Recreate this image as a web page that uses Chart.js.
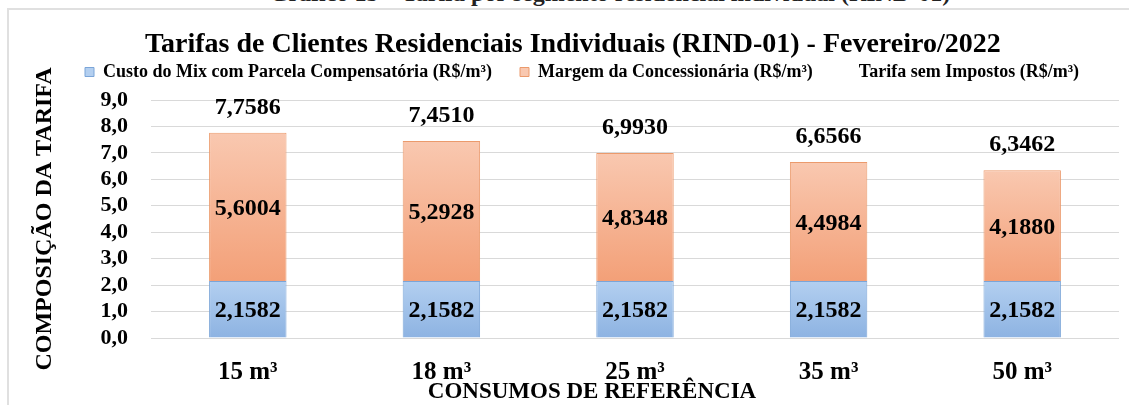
<!DOCTYPE html>
<html>
<head>
<meta charset="utf-8">
<script src="https://cdn.jsdelivr.net/npm/chart.js@4.4.1/dist/chart.umd.min.js"></script>
<style>
  body { margin: 0; background: #fff; }
  #wrap { position: relative; width: 1129px; height: 405px; overflow: hidden; }
  #legenda-topo {
    position: absolute; left: 0; width: 1220px; top: -19px; text-align: center;
    font: bold 24px "Liberation Serif"; line-height: 24px; color: #222; white-space: nowrap;
  }
  #moldura {
    position: absolute; left: 7px; top: 8px; width: 1200px; height: 500px;
    border: 2px solid #e0e0e0;
  }
  canvas { position: absolute; left: 0; top: 0; }
</style>
</head>
<body>
<div id="wrap">
  <div id="legenda-topo">Gráfico 15 – Tarifa por segmento residencial individual (RIND-01)</div>
  <div id="moldura"></div>
  <canvas id="myChart" width="1129" height="405"></canvas>
</div>
<script>
const categorias = ["15 m³", "18 m³", "25 m³", "35 m³", "50 m³"];
const custoMix = [2.1582, 2.1582, 2.1582, 2.1582, 2.1582];
const margem = [5.6004, 5.2928, 4.8348, 4.4984, 4.188];
const tarifaSemImpostos = [7.7586, 7.451, 6.993, 6.6566, 6.3462];

const fmt = (v, d) => v.toFixed(d).replace(".", ",");

// degradê vertical em cada segmento da barra
function degrade(cimaCor, baixoCor) {
  return function (context) {
    const chart = context.chart;
    const { ctx, chartArea, scales } = chart;
    if (!chartArea || context.type !== "data" || !scales.y) return baixoCor;
    const i = context.dataIndex;
    let base = 0;
    for (let d = 0; d < context.datasetIndex; d++) base += chart.data.datasets[d].data[i];
    const y0 = scales.y.getPixelForValue(base);
    const y1 = scales.y.getPixelForValue(base + context.raw);
    const g = ctx.createLinearGradient(0, y1, 0, y0);
    g.addColorStop(0, cimaCor);
    g.addColorStop(1, baixoCor);
    return g;
  };
}

const rotulos = {
  id: "rotulos",
  afterLayout(chart) {
    const lg = chart.legend;
    const pad = lg.options.labels.padding;
    const dx = 85 - (lg.left + pad);
    const dy = 72 - (lg.top + pad + 9);
    lg.left += dx; lg.right += dx;
    lg.top += dy; lg.bottom += dy;
  },
  afterDatasetsDraw(chart) {
    const ctx = chart.ctx;
    ctx.save();
    ctx.fillStyle = "#000";
    ctx.textAlign = "center";
    ctx.textBaseline = "middle";
    ctx.font = 'bold 24px "Liberation Serif"';
    chart.data.datasets.forEach((ds, d) => {
      const meta = chart.getDatasetMeta(d);
      meta.data.forEach((el, i) => {
        const txt = fmt(ds.data[i], 4);
        if (ds.type === "line") {
          ctx.fillText(txt, el.x, el.y - 25);
        } else {
          const c = el.getCenterPoint();
          ctx.fillText(txt, c.x, c.y + 2);
        }
      });
    });
    ctx.font = 'bold 23px "Liberation Serif"';
    ctx.fillText("CONSUMOS DE REFERÊNCIA", 592, 392);
    ctx.restore();
  },
};

Chart.defaults.font.family = '"Liberation Serif"';
Chart.defaults.font.weight = "bold";
Chart.defaults.color = "#000";

new Chart(document.getElementById("myChart"), {
  type: "bar",
  data: {
    labels: categorias,
    datasets: [
      {
        label: "Custo do Mix com Parcela Compensatória (R$/m³)",
        data: custoMix,
        backgroundColor: degrade("#b3cff0", "#8db3e2"),
        borderColor: "#7ba5d8",
        borderWidth: 1,
      },
      {
        label: "Margem da Concessionária (R$/m³)",
        data: margem,
        backgroundColor: degrade("#f9c8b0", "#f3a078"),
        borderColor: "#eb9a6c",
        borderWidth: 1,
      },
      {
        type: "line",
        label: "Tarifa sem Impostos (R$/m³)",
        data: tarifaSemImpostos,
        stack: "total",
        showLine: false,
        pointRadius: 0,
        borderColor: "transparent",
        backgroundColor: "transparent",
      },
    ],
  },
  options: {
    responsive: false,
    animation: false,
    layout: {
      padding: { top: 0, left: 26.6, right: 10, bottom: 0 },
    },
    datasets: {
      bar: { categoryPercentage: 1, barPercentage: 0.4 },
    },
    scales: {
      x: {
        stacked: true,
        grid: { display: false, drawTicks: false },
        border: { display: false },
        ticks: { font: { size: 25 }, padding: 20, maxRotation: 0, autoSkip: false },
        afterFit: (scale) => { scale.height = 67; },
      },
      y: {
        stacked: true,
        min: 0,
        max: 9,
        grid: { color: "#d9d9d9", drawTicks: false },
        border: { display: false },
        ticks: {
          stepSize: 1,
          autoSkip: false,
          padding: 23,
          font: { size: 22 },
          callback: (v) => fmt(v, 1),
        },
        title: {
          display: true,
          text: "COMPOSIÇÃO DA TARIFA",
          font: { size: 24 },
          padding: { top: 4, bottom: 4 },
        },
        afterFit: (scale) => { scale.width = 151 - 26.6; },
      },
    },
    plugins: {
      title: {
        display: true,
        text: "Tarifas de Clientes Residenciais Individuais (RIND-01) - Fevereiro/2022",
        font: { size: 28 },
        padding: { top: 28, bottom: -17.6 },
      },
      legend: {
        position: "top",
        align: "start",
        labels: {
          boxWidth: 9,
          boxHeight: 9,
          padding: 28,
          font: { size: 18 },
        },
      },
      tooltip: { enabled: false },
    },
  },
  plugins: [rotulos],
});
</script>
</body>
</html>
